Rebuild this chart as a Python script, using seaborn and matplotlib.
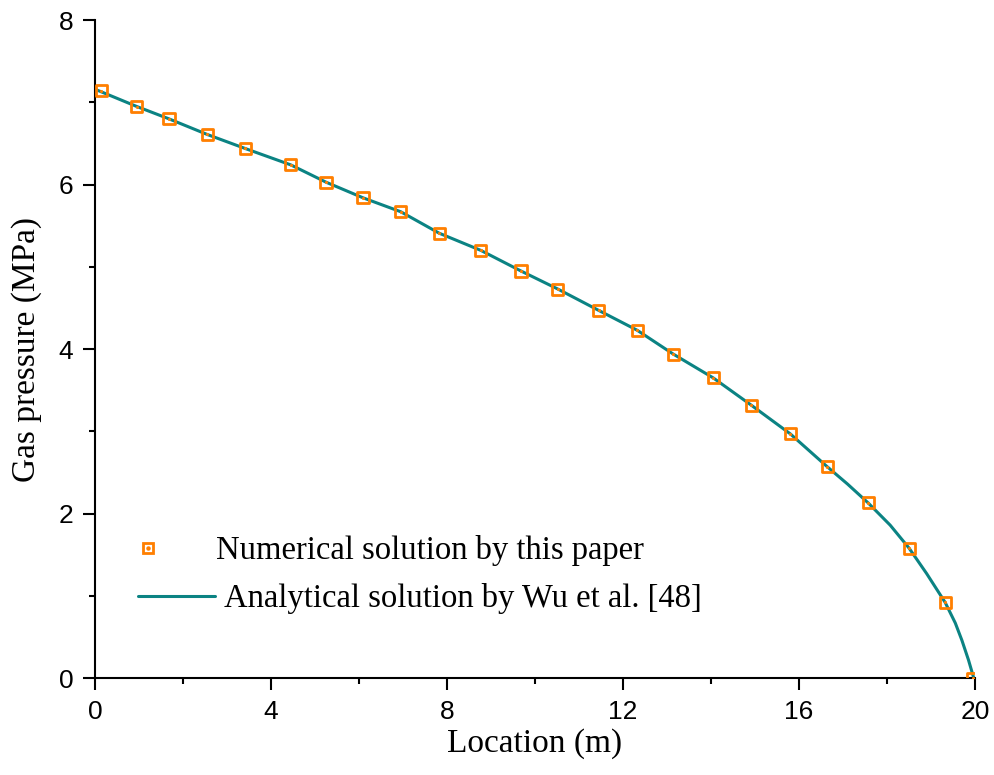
import matplotlib
matplotlib.use("Agg")
import matplotlib.pyplot as plt
import seaborn as sns
from matplotlib.lines import Line2D
from matplotlib.legend_handler import HandlerTuple
from matplotlib.ticker import MultipleLocator

# numerical solution (markers)
num_x = [0.14, 0.95, 1.68, 2.55, 3.41, 4.45, 5.25, 6.09, 6.95, 7.82, 8.77, 9.68,
         10.52, 11.45, 12.32, 13.14, 14.05, 14.91, 15.80, 16.64, 17.57, 18.50,
         19.32, 19.95]
num_p = [7.14, 6.95, 6.80, 6.61, 6.44, 6.24, 6.03, 5.84, 5.67, 5.41, 5.20, 4.95,
         4.73, 4.47, 4.23, 3.94, 3.65, 3.32, 2.97, 2.57, 2.13, 1.58,
         0.92, 0.0]

# analytical solution (line)
ana_x = [0.0, 0.95, 1.68, 2.55, 3.41, 4.45, 5.25, 6.09, 6.95, 7.82, 8.77, 9.68,
         10.52, 11.45, 12.32, 13.14, 14.05, 14.91, 15.80, 16.64, 17.10, 17.57,
         18.07, 18.50, 18.90, 19.32, 19.55, 19.70, 19.85, 19.97]
ana_p = [7.16, 6.95, 6.80, 6.61, 6.44, 6.24, 6.03, 5.84, 5.67, 5.41, 5.20, 4.95,
         4.73, 4.47, 4.23, 3.94, 3.65, 3.32, 2.97, 2.57, 2.36, 2.13,
         1.86, 1.58, 1.27, 0.92, 0.67, 0.46, 0.22, 0.0]

orange = "#ff7f00"
teal = "#0b8383"

sns.set_style("ticks")
plt.rcParams["font.family"] = ["Liberation Sans", "DejaVu Sans"]
plt.rcParams.update({"text.color": "black", "axes.labelcolor": "black",
                     "xtick.color": "black", "ytick.color": "black"})

fig = plt.figure(figsize=(9.95, 7.75), dpi=100)
ax = fig.add_axes([0.0955, 0.125, 0.8845, 0.849])

sns.lineplot(x=ana_x, y=ana_p, ax=ax, color=teal, linewidth=2.2, sort=False, zorder=2)
sns.scatterplot(x=num_x, y=num_p, ax=ax, marker="s", s=64, facecolors="none",
                edgecolor=orange, linewidth=2.0, zorder=3)
sns.scatterplot(x=num_x, y=num_p, ax=ax, marker="o", s=5, color=orange,
                linewidth=0, zorder=4)

ax.set_xlim(0, 20)
ax.set_ylim(0, 8)
ax.xaxis.set_major_locator(MultipleLocator(4))
ax.xaxis.set_minor_locator(MultipleLocator(2))
ax.yaxis.set_major_locator(MultipleLocator(2))
ax.yaxis.set_minor_locator(MultipleLocator(1))

sns.despine(ax=ax)
for s in ["left", "bottom"]:
    ax.spines[s].set_linewidth(1.5)
    ax.spines[s].set_color("black")
ax.tick_params(which="major", direction="out", length=8.5, width=1.5,
               labelsize=19, pad=7)
ax.tick_params(which="minor", direction="out", length=4.5, width=1.5)

serif = ["Liberation Serif", "DejaVu Serif"]
ax.set_xlabel("Location (m)", fontsize=24, family=serif, labelpad=3)
ax.set_ylabel("Gas pressure (MPa)", fontsize=24, family=serif, labelpad=12)

# legend: two separate rows as in the original (text not aligned)
h_sq = Line2D([], [], marker="s", ms=7.5, mfc="none", mec=orange, mew=2, ls="none")
h_dot = Line2D([], [], marker="o", ms=2.2, mfc=orange, mec=orange, ls="none")
h_line = Line2D([], [], color=teal, lw=2.2)
leg_font = {"family": serif, "size": 23.5}

leg1 = ax.legend([(h_sq, h_dot)], ["Numerical solution by this paper"],
                 handler_map={tuple: HandlerTuple(ndivide=1)},
                 prop=leg_font, frameon=False, loc="center left",
                 bbox_to_anchor=(131 / 995, 1 - 551 / 775),
                 bbox_transform=fig.transFigure, borderpad=0, borderaxespad=0,
                 handlelength=1.04, handletextpad=1.56)
ax.add_artist(leg1)
ax.legend([h_line], ["Analytical solution by Wu et al. [48]"],
          prop=leg_font, frameon=False, loc="center left",
          bbox_to_anchor=(138 / 995, 1 - 599 / 775),
          bbox_transform=fig.transFigure, borderpad=0, borderaxespad=0,
          handlelength=2.36, handletextpad=0.28)

fig.savefig("out.png", dpi=100)
